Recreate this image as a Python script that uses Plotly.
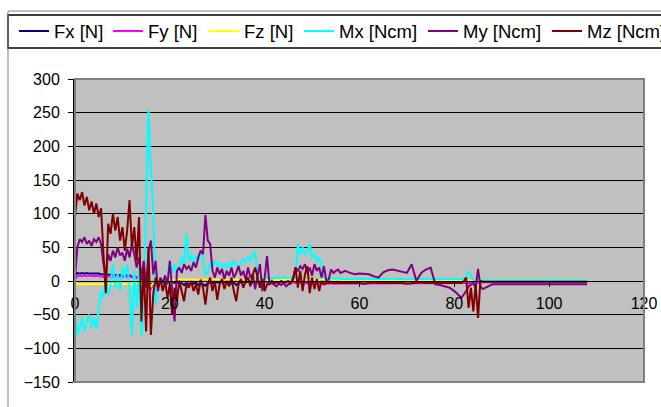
import plotly.graph_objects as go

# sample time grid (x) : 0..56 step 0.5, 57..81 step 1, 81.5..86 step 0.5, 88..108 step 2
x_segments = [
    [i * 0.5 for i in range(113)],
    list(range(57, 82)),
    [81.5 + 0.5 * i for i in range(10)],
    list(range(88, 109, 2)),
]
x = [v for seg in x_segments for v in seg]

fx = [8, 12, 11, 12, 11, 12, 11, 11, 12, 11,
      11, 10, 10, 10, 9, 10, 9, 9, 8, 9,
      8, 8, 7, 8, 6, 7, 5, 6, 3, 4,
      0, -3, -6, -2, -1, 0, -1, -2, 0, -1,
      -2, -1, -3, -2, -4, -3, -6, -2, -5, -3,
      -4, -2, -6, -3, -5, -7, -3, -2, -3, -1,
      -2, -3, -1, -2, -3, -2, -4, -2, -6, -3,
      -2, -1, -2, -1, -3, -2, -1, -2, -3, -1,
      -2, -1, -2, -1, -1, -2, -1, -1, -2, -1,
      -1, -2, -1, -3, -2, -1, -2, -1, -2, -1,
      -1, -1, 0, -1, 0, 0, -1, 0, 0, -1,
      0, 0, -1,
      0, 0, -1, 0, 0, 0, -1, 0, 0, 0, 0, -1, 0, 0, 0, 0, -1, 0, 0, 0, 0, -1, 0, 0, 0,
      0, 0, -1, -3, -2, -4, -1, -2, 0, 0,
      0, 0, 0, 0, 0, 0, 0, 0, 0, 0, 0]

fy = [3, 7, 8, 7, 8, 7, 8, 7, 7, 8,
      7, 7, 6, 7, 7, 6, 7, 7, 6, 7,
      6, 7, 6, 6, 7, 6, 5, 6, 5, 3,
      0, -8, -12, -5, -2, -1, 0, -1, 0, 1,
      0, -1, 1, 0, 0, 1, 0, -1, 0, 0,
      1, 0, 0, -1, 0, 1, 0, 0, -1, 0,
      0, 1, 0, 0, -1, 0, 0, 1, 0, 0,
      -1, 0, 0, 1, 0, 0, -1, 0, 0, -1,
      -1, -2, -1, -2, -2, -1, -2, -2, -3, -2,
      -2, -3, -2, -3, -3, -2, -3, -3, -4, -3,
      -3, -4, -3, -4, -4, -3, -4, -4, -4, -3,
      -4, -4, -4,
      -4, -4, -3, -4, -4, -4, -3, -4, -4, -4, -4, -3, -4, -4, -4, -3, -4, -4, -4, -4, -3, -4, -4, -4, -4,
      -4, -4, -3, -2, -3, -2, -2, -2, -2, -2,
      -2, -2, -2, -2, -2, -2, -2, -2, -2, -2, -2]

fz = [-4, -5, -5, -4, -5, -5, -4, -5, -5, -4,
      -5, -5, -4, -5, -5, -4, -5, -5, -4, -5,
      -5, -4, -5, -5, -4, -5, -4, -3, -3, -2,
      0, -5, -8, -3, 0, 2, 1, 2, 2, 1,
      2, 1, 2, 2, 3, 2, 2, 3, 2, 2,
      3, 2, 2, 3, 2, 2, 3, 2, 2, 3,
      2, 3, 2, 2, 3, 2, 2, 3, 2, 2,
      3, 2, 2, 3, 2, 3, 2, 2, 3, 2,
      2, 2, 1, 2, 2, 1, 2, 2, 1, 2,
      2, 1, 2, 2, 1, 2, 2, 1, 2, 2,
      1, 2, 2, 1, 2, 2, 1, 2, 2, 1,
      2, 2, 1,
      1, 2, 1, 2, 1, 1, 2, 1, 2, 1, 1, 2, 1, 2, 1, 1, 2, 1, 2, 1, 1, 2, 1, 2, 1,
      1, 2, 2, 1, 0, 1, 0, 1, 1, 1,
      1, 1, 1, 1, 1, 1, 1, 1, 1, 1, 1]

mx = [-45, -80, -70, -55, -75, -60, -50, -68, -55, -72,
      -40, -15, -25, 5, -20, -5, 25, -10, 10, -15,
      20, 5, 25, -10, -80, 15, -40, 20, -82, -30,
      120, 255, 165, 100, -35, 0, -3, 2, 0, 5,
      30, 12, 25, 10, 20, 35, 25, 70, 30, 40,
      25, 38, 30, 43, 35, 10, 12, 28, 20, 30,
      22, 28, 20, 25, 18, 28, 22, 30, 25, 20,
      27, 32, 28, 35, 30, 40, 42, 5, 4, 3,
      3, 5, 4, 3, 4, 5, 4, 5, 6, 5,
      4, 5, 6, 5, 55, 40, 50, 38, 45, 55,
      35, 40, 28, 35, 25, 5, 4, 3, 4, 3,
      3, 4, 3,
      3, 3, 4, 3, 3, 4, 3, 3, 3, 4, 3, 3, 3, 4, 3, 3, 3, 4, 3, 3, 3, 4, 3, 3, 3,
      3, 3, 5, 15, 8, 2, 0, 3, 1, 1,
      1, 1, 1, 1, 1, 1, 1, 1, 1, 1, 1]

my = [5, 50, 62, 58, 65, 55, 60, 52, 62, 58,
      65, 55, 25, 10, 40, 30, 45, 35, 50, 38,
      42, 30, 48, 35, 55, 40, 20, 35, 5, 30,
      -10, 45, 60, 10, 30, -15, 5, -3, 8, -5,
      30, -20, -60, 15, 20, 12, 25, 18, 22, 15,
      28, 20, 35, 45, 40, 98, 60, 55, 15, 5,
      20, 10, 18, 3, 15, 8, 20, 5, 12, 22,
      8, 15, 2, 20, 5, 10, -12, 8, 25, -15,
      5, 37, -5, -3, -5, -8, -4, -6, -3, -8,
      -5, -4, 5, 20, 15, 22, 18, 25, 12, 20,
      8, 25, 15, 20, 5, 22, 0, 2, 17, 12,
      15, 17, 12,
      15, 12, 10, 11, 10, 10, 7, 5, 13, 16, 17, 15, 14, 12, 25, 0, 12, 17, 20, -5, -6, -8, -10, -15, -22,
      -25, -20, -15, -8, -5, -3, -10, 18, -8, -12,
      -5, -5, -5, -5, -5, -5, -5, -5, -5, -5, -5]

mz = [95, 130, 120, 132, 112, 125, 105, 118, 100, 115,
      95, 108, 40, -18, 85, 70, 100, 75, 95, 60,
      80, 45, 75, 120, 50, 80, 30, 95, -60, 20,
      -75, 50, -80, -20, 5, -10, 3, -15, 0, -25,
      -5, -50, -10, -30, 0, -15, -30, -5, -10, 0,
      -15, -5, -20, 2, -10, -35, -5, 5, -15, 0,
      -28, -5, 3, -12, 0, -8, 5, -15, -30, -5,
      3, -10, 0, 5, -8, 10, 20, 5, -10, 3,
      -15, -5, -3, 0, -3, -2, -3, 0, -2, -1,
      0, -3, 2, 20, -10, 15, -15, 10, 22, -18,
      5, -12, 3, -15, 0, -5, -3, -3, -2, -3,
      -3, -2, -3,
      -3, -2, -3, -3, -4, -3, -2, -3, -3, -3, -2, -3, -3, -4, -3, -3, -2, -3, -3, -3, -2, -3, -3, -3, -3,
      -3, 0, 5, -40, -10, -45, -5, -55, 0, -1,
      -1, -1, 0, -1, -1, -1, 0, -1, -1, -1, -1]

names = ["Fx [N]", "Fy [N]", "Fz [N]", "Mx [Ncm]", "My [Ncm]", "Mz [Ncm]"]
colors = ["#000080", "#FF00FF", "#FFFF00", "#00FFFF", "#800080", "#800000"]
series = [fx, fy, fz, mx, my, mz]
legend_ids = ["legend", "legend2", "legend3", "legend4", "legend5", "legend6"]
legend_px = [14, 108, 204, 299, 423, 547]   # left edge of each legend entry (px)

FONT = "Liberation Sans, Arial, sans-serif"

fig = go.Figure()
for name, col, ys, lg in zip(names, colors, series, legend_ids):
    fig.add_trace(go.Scatter(x=x, y=ys, mode="lines", name=name, legend=lg,
                             line=dict(color=col, width=2)))

W, H = 661, 407
L, R, T, B = 75, 17, 79, 25
pw, ph = W - L - R, H - T - B

def px2x(p):
    return (p - L) / pw

def py2y(p):
    return (H - B - p) / ph

legend_layout = {}
for lg, lx in zip(legend_ids, legend_px):
    legend_layout[lg] = dict(orientation="h", x=px2x(lx), y=py2y(31.5),
                             xanchor="left", yanchor="middle",
                             bgcolor="rgba(0,0,0,0)", borderwidth=0,
                             font=dict(size=18.5))

fig.update_layout(
    width=W, height=H,
    margin=dict(l=L, r=R, t=T, b=B, autoexpand=False),
    paper_bgcolor="white",
    plot_bgcolor="#C0C0C0",
    font=dict(family=FONT, size=16, color="black"),
    showlegend=True,
    xaxis=dict(range=[0, 120], dtick=20, anchor="free", position=150 / 450,
               showline=True, linecolor="black", linewidth=1,
               ticks="outside", ticklen=5, tickcolor="black",
               showgrid=False, zeroline=False, ticklabelstandoff=3,
               tickfont=dict(size=16)),
    yaxis=dict(range=[-150, 300], dtick=50, showline=True, linecolor="black", linewidth=2,
               ticks="outside", ticklen=5, tickcolor="black",
               showgrid=True, gridcolor="black", gridwidth=1, zeroline=False,
               ticklabelstandoff=5, tickfont=dict(size=16)),
    shapes=[
        dict(type="rect", xref="paper", yref="paper", x0=0, x1=1, y0=0, y1=1,
             line=dict(color="#808080", width=2), layer="above"),
        dict(type="rect", xref="paper", yref="paper", x0=px2x(8), x1=px2x(700),
             y0=py2y(48), y1=py2y(15), line=dict(color="black", width=1.5)),
        dict(type="rect", xref="paper", yref="paper", x0=px2x(8), x1=px2x(700),
             y0=py2y(450), y1=py2y(11), line=dict(color="#808080", width=1)),
    ],
    **legend_layout,
)
fig.write_html("out.html")
